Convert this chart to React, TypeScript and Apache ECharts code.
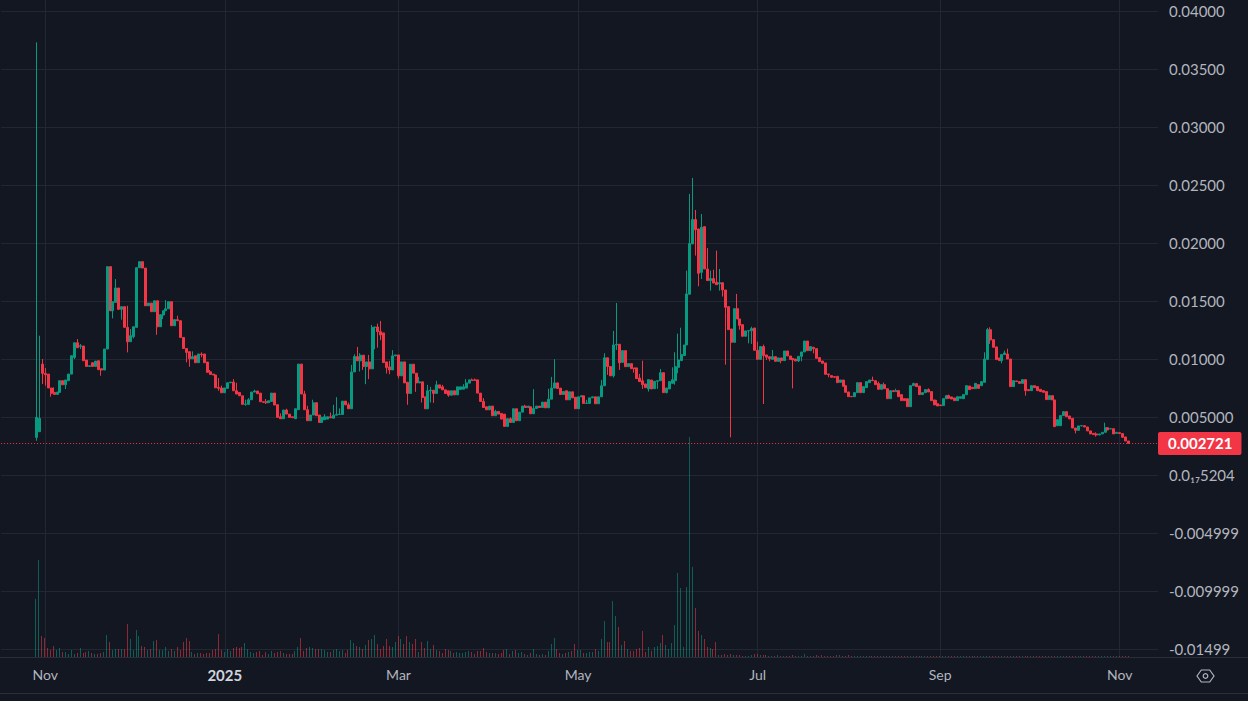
import React, { useEffect, useRef } from "react";
import * as echarts from "echarts";

// Prices are in thousandths of the quote unit.
const PRICE_UNIT = 0.001;
const FIRST_CANDLE = "2024-10-29";
const LEAD_IN_DAYS = 12;
const TOTAL_POINTS = 394;
const LAST_PRICE = 0.002721;

const opens = [
  3.24,3.73,9.56,8.76,8.70,7.50,7.12,6.95,7.12,8.13,
  7.78,8.13,8.70,10.14,11.40,11.09,11.12,9.91,9.36,9.68,
  9.36,9.85,9.16,9.05,10.86,17.96,14.16,14.88,16.12,14.28,
  14.51,12.73,11.49,11.92,12.73,17.87,18.39,17.84,14.59,14.82,
  14.08,15.02,12.78,13.79,14.16,14.33,14.94,12.87,13.39,13.30,
  11.86,10.91,10.63,10.02,10.28,9.68,10.43,10.43,9.74,8.90,
  8.70,8.62,7.55,7.50,7.09,7.47,7.95,8.01,7.26,7.12,
  6.83,6.09,6.09,6.49,7.15,7.24,7.06,6.32,6.32,6.23,
  6.34,7.06,6.06,5.02,4.85,5.60,5.25,5.02,4.85,5.63,
  9.56,6.98,5.63,4.68,5.17,6.23,5.17,4.53,4.76,4.82,
  5.02,4.90,5.16,5.22,5.22,6.37,6.05,5.71,8.89,10.21,
  9.84,10.33,9.35,9.75,9.15,12.71,12.76,12.36,12.25,9.75,
  9.32,9.06,10.27,10.35,8.55,9.75,8.00,7.03,9.55,8.78,
  7.94,8.03,6.74,5.71,7.26,7.31,7.03,7.77,7.60,7.34,
  7.26,6.88,7.26,6.91,7.37,7.40,7.49,7.92,8.20,8.20,
  8.20,7.06,6.34,5.88,5.62,5.94,5.11,5.48,5.31,5.25,
  4.19,4.85,4.53,5.71,4.68,5.42,5.94,5.82,5.88,5.28,
  5.74,5.94,5.82,6.28,5.79,6.54,7.49,7.94,7.49,6.94,
  7.26,6.48,7.17,6.71,5.71,6.74,6.83,6.17,6.17,6.65,
  6.74,6.14,6.74,7.69,10.10,9.35,8.55,11.21,11.27,9.71,
  10.72,9.34,9.60,9.23,9.23,8.36,8.13,7.85,7.42,8.19,
  7.44,8.08,8.13,8.82,7.10,7.42,7.90,8.13,9.28,9.86,
  10.29,11.21,15.58,19.92,22.02,21.21,17.47,21.41,17.76,16.76,
  16.93,16.61,16.47,16.58,15.95,14.51,12.59,11.44,14.34,13.45,
  12.96,11.96,12.42,12.44,12.67,10.75,9.97,11.07,10.35,10.20,
  9.97,10.20,9.80,10.09,9.86,10.69,10.26,10.06,10.00,9.83,
  10.23,10.61,11.55,10.72,11.01,10.89,10.12,9.83,9.66,8.71,
  8.57,8.48,8.51,7.99,8.19,7.70,7.16,6.78,6.75,7.10,
  7.96,7.10,7.53,7.96,8.19,8.13,7.88,7.39,7.79,7.44,
  6.58,7.27,7.19,7.27,6.93,6.58,6.58,5.89,7.70,7.88,
  7.67,6.93,7.10,7.36,7.19,6.47,6.15,6.04,5.98,6.58,
  6.84,6.73,6.64,6.41,6.61,6.58,6.93,7.67,7.56,7.44,
  7.79,7.70,7.99,9.97,12.53,11.67,11.04,10.09,9.86,10.38,
  10.43,10.00,7.62,8.11,8.05,7.90,8.22,7.36,7.27,7.70,
  7.62,7.39,7.27,7.19,6.50,6.84,6.47,4.25,4.25,5.12,
  5.46,5.09,4.89,4.05,3.85,4.23,4.25,4.14,3.80,3.59,
  3.54,3.45,3.54,3.68,4.08,3.97,3.99,3.59,3.65,3.57,
  3.28,2.93,
];

const closes = [
  4.97,4.88,8.76,8.64,7.50,7.04,6.95,7.15,8.13,7.78,
  8.19,8.70,10.28,11.40,10.97,11.14,9.85,9.36,9.42,9.36,
  9.82,9.08,9.05,10.86,17.96,14.16,14.94,16.12,14.28,14.51,
  12.73,11.49,12.01,12.78,17.87,18.39,17.84,14.59,14.82,14.08,
  15.02,12.78,13.82,14.16,14.33,14.94,12.87,13.39,13.30,11.86,
  10.91,10.57,10.02,10.20,9.68,10.43,10.37,9.68,8.85,8.67,
  8.62,7.52,7.47,7.09,7.50,7.95,8.01,7.26,6.98,6.83,
  6.09,6.12,6.49,7.15,7.24,7.01,6.32,6.26,6.23,6.40,
  7.06,6.03,4.97,4.85,5.60,5.25,4.97,4.94,5.71,9.56,
  6.98,5.63,4.68,5.17,6.23,5.11,4.53,4.99,5.02,5.02,
  4.93,5.16,5.22,5.25,6.37,6.05,5.71,8.89,10.21,9.84,
  10.33,9.35,9.75,9.15,12.71,12.76,12.36,12.07,9.69,9.26,
  9.06,10.27,10.35,8.55,9.75,7.94,7.03,9.55,8.78,7.94,
  8.03,6.68,5.71,7.26,7.31,7.03,7.77,7.49,7.34,7.03,
  6.88,7.26,6.91,7.60,7.60,7.60,7.94,8.20,8.15,8.15,
  7.06,6.34,5.82,5.62,5.94,5.11,5.48,5.25,4.82,4.19,
  4.85,4.53,5.71,4.68,5.42,5.94,5.82,5.94,5.28,5.74,
  5.94,5.82,6.28,5.79,6.54,7.49,7.94,7.46,6.94,7.20,
  6.48,7.17,6.65,5.71,6.74,6.83,6.17,6.20,6.65,6.74,
  6.14,6.74,7.69,10.10,9.35,8.55,11.21,11.27,9.67,10.72,
  9.34,9.60,9.17,9.17,8.31,8.05,7.79,7.53,8.22,7.42,
  8.08,8.13,8.82,7.10,7.50,8.05,8.22,9.34,9.92,10.38,
  11.21,15.61,19.95,22.02,21.15,17.39,21.35,17.76,16.76,16.93,
  16.55,16.41,16.58,15.95,14.46,12.53,11.44,14.34,13.45,12.90,
  11.96,12.42,12.44,12.62,10.75,9.97,11.07,10.29,10.15,10.03,
  10.20,9.80,10.09,9.86,10.69,10.26,9.97,9.92,9.83,10.23,
  10.61,11.55,10.72,11.07,10.89,10.06,9.77,9.63,8.68,8.65,
  8.42,8.42,7.96,8.19,7.65,7.13,6.75,6.75,7.10,7.96,
  7.10,7.62,8.05,8.19,8.13,7.79,7.39,7.79,7.44,6.58,
  7.27,7.19,7.27,6.75,6.41,6.41,5.89,7.70,7.88,7.62,
  6.93,7.10,7.36,7.16,6.41,6.04,5.95,5.98,6.58,6.84,
  6.61,6.55,6.41,6.75,6.75,6.93,7.70,7.36,7.44,7.90,
  7.47,8.05,10.00,12.53,11.64,11.01,9.95,9.86,10.38,10.52,
  10.00,7.62,8.13,8.05,7.90,8.22,7.27,7.27,7.70,7.53,
  7.27,7.19,7.13,6.50,6.84,6.47,4.17,4.77,5.12,5.46,
  5.03,4.83,4.05,3.85,4.23,4.25,4.14,3.80,3.54,3.48,
  3.45,3.54,3.68,4.08,3.88,3.99,3.54,3.68,3.57,3.25,
  2.93,2.721,
];

// Wicks that reach past the candle body, by candle index.
const upperWicks: Record<number, number> = {
  0:37.3,1:12.01,2:9.99,3:9.22,6:7.55,14:11.72,15:11.29,27:16.89,31:14.59,32:12.58,
  44:15.08,48:13.73,53:10.66,56:10.57,59:9.05,62:8.36,63:7.70,67:8.27,68:7.95,71:6.49,
  72:6.63,74:7.35,78:6.55,83:5.31,85:5.71,91:7.26,92:5.97,94:6.49,98:5.25,100:5.39,
  101:6.05,102:6.71,103:5.74,106:6.25,107:9.49,108:10.41,109:11.04,110:10.50,113:10.35,114:12.94,
  116:13.05,117:13.28,120:9.84,121:10.76,130:8.46,133:7.77,134:7.60,136:8.12,138:7.77,145:7.83,
  146:8.26,148:8.32,149:8.32,152:6.63,156:5.62,161:4.96,166:6.05,169:7.40,174:7.43,175:8.46,
  176:9.98,187:6.48,192:8.20,193:10.50,196:12.42,197:14.83,205:8.71,206:9.86,212:9.14,216:9.28,
  217:10.58,218:12.19,219:12.70,221:17.62,222:24.23,223:25.61,224:22.85,226:22.50,228:19.57,229:17.62,
  230:17.70,231:19.34,232:17.76,238:15.61,243:12.79,245:11.50,247:11.24,250:10.78,284:8.48,286:8.05,
  288:7.96,292:7.44,298:7.96,303:7.47,306:6.47,310:6.93,322:10.58,323:12.68,324:12.73,329:10.72,
  330:10.89,360:3.68,363:4.51,
};

const lowerWicks: Record<number, number> = {
  0:2.95,2:7.84,3:7.70,5:6.75,10:7.41,13:9.99,15:10.86,22:8.56,26:13.50,29:13.39,
  31:10.57,33:11.78,41:12.09,43:13.44,51:9.71,52:9.33,56:10.14,62:7.26,71:5.97,78:6.12,
  110:8.92,111:9.06,112:7.83,113:8.26,115:10.84,116:10.98,117:11.62,119:8.75,120:8.69,123:8.32,
  126:6.05,129:7.17,131:6.25,134:6.25,135:6.22,140:6.74,194:8.63,196:8.40,197:10.78,198:9.06,
  203:8.82,206:7.42,208:7.19,211:7.42,214:7.04,217:7.79,218:8.77,224:18.91,225:16.27,226:16.90,
  229:15.89,232:15.89,233:15.38,234:9.51,236:3.25,239:12.53,242:11.35,243:11.30,247:6.12,248:9.92,
  249:9.80,253:9.63,257:7.47,259:9.74,260:9.80,264:10.49,269:8.42,324:11.30,328:9.63,336:6.84,
  353:3.59,360:3.31,
};

const volumes = [
  58,97,21,19,9,7,11,7,9,5,5,3,7,3,4,9,4,5,6,4,
  3,3,4,5,22,15,7,8,8,8,8,33,18,7,27,21,11,10,7,8,
  16,17,7,7,10,6,8,6,10,7,15,19,16,5,3,4,4,3,4,4,
  7,8,23,7,5,8,6,9,10,9,10,14,8,5,4,5,6,2,5,3,
  6,4,5,6,4,3,3,3,6,10,19,6,9,10,9,8,8,8,7,5,
  5,7,8,6,7,4,7,17,14,11,10,8,12,17,18,22,13,8,11,18,
  11,10,15,21,18,13,21,15,13,18,5,15,9,16,8,12,7,6,4,8,
  7,6,4,5,4,4,5,6,5,3,6,6,9,5,4,4,4,3,4,7,
  8,3,6,7,4,5,3,2,4,8,3,2,3,2,6,13,19,8,4,3,
  4,5,6,13,7,7,4,4,5,5,8,6,18,36,15,15,56,41,30,12,
  16,8,6,6,8,9,26,5,10,6,10,11,14,22,12,8,14,32,84,69,
  10,70,220,90,49,26,22,18,10,9,8,15,2,2,3,2,3,2,2,2,
  1,1,1,2,3,3,2,2,2,1,1,1,2,1,1,1,1,2,1,1,
  1,3,1,1,1,2,1,2,1,1,1,1,2,2,1,1,2,1,1,1,
  1,1,1,1,1,1,1,1,1,1,1,1,1,1,1,1,1,1,1,1,
  1,1,1,1,1,1,1,1,1,1,1,1,1,1,1,1,1,1,1,1,
  1,1,1,1,1,1,1,1,1,1,1,1,1,1,1,1,1,1,1,1,
  1,1,1,1,1,1,1,1,1,1,1,1,1,1,1,1,1,1,1,1,
  1,1,1,1,1,1,1,1,1,1,1,1,
];

// Labels of the price scale, from 0.04 downwards in steps of 0.005.
const priceTickLabels = [
  "0.04000","0.03500","0.03000","0.02500","0.02000","0.01500","0.01000","0.005000",
  "0.0\u2081\u20875204","-0.004999","-0.009999","-0.01499",
];
const monthNames = ["Jan","Feb","Mar","Apr","May","Jun","Jul","Aug","Sep","Oct","Nov","Dec"];
const yearTickLabel = "2025";

const BG = "#131722";
const GRID = "#232733";
const UP = "#089981";
const DOWN = "#f23645";
const VOL_UP = "rgba(8,153,129,0.55)";
const VOL_DOWN = "rgba(242,54,69,0.55)";
const TEXT = "#b2b5be";
const FONT = "Lato, 'Noto Sans', sans-serif";

const DAY = 86400000;
const startMs = Date.parse(FIRST_CANDLE) - LEAD_IN_DAYS * DAY;
const dates: string[] = [];
for (let i = 0; i < TOTAL_POINTS; i++) {
  dates.push(new Date(startMs + i * DAY).toISOString().slice(0, 10));
}
const isLabelDay = (index: number) => {
  const d = new Date(startMs + index * DAY);
  return d.getUTCDate() === 1 && (d.getUTCMonth() % 2 === 0 || d.getUTCMonth() === 10);
};
const tickText = (value: string) => {
  const d = new Date(value);
  if (d.getUTCMonth() === 0) return `{year|${yearTickLabel}}`;
  return monthNames[d.getUTCMonth()];
};

const padding = new Array(LEAD_IN_DAYS).fill("-");
const candleData = [
  ...padding,
  ...opens.map((o, i) => {
    const c = closes[i];
    const low = Math.min(o, c, lowerWicks[i] ?? Infinity);
    const high = Math.max(o, c, upperWicks[i] ?? -Infinity);
    return [o, c, low, high].map((v) => v * PRICE_UNIT);
  }),
];
const volumeData = volumes.map((v, i) => [i + LEAD_IN_DAYS, v, closes[i] >= opens[i] ? 1 : 0]);

// The price scale runs past the visible area so that its ticks stay on multiples of 0.005.
const PRICE_MIN = -0.02;
const PRICE_MAX = 0.045;
const PX_PER_PRICE = 11600;
const ZERO_Y = 475;
const PANE_BOTTOM = 657;
const PANE_LEFT = 1.1;
const PANE_WIDTH = 1156.9;

export default function App() {
  const ref = useRef<HTMLDivElement>(null);
  useEffect(() => {
    document.body.style.margin = "0";
    document.body.style.background = BG;
    const chart = echarts.init(ref.current!, undefined, { renderer: "svg" });
    chart.setOption({
      animation: false,
      backgroundColor: BG,
      textStyle: { fontFamily: FONT },
      grid: [
        {
          left: PANE_LEFT,
          width: PANE_WIDTH,
          top: ZERO_Y - PRICE_MAX * PX_PER_PRICE,
          height: (PRICE_MAX - PRICE_MIN) * PX_PER_PRICE,
          outerBoundsMode: "none",
        },
        { left: PANE_LEFT, width: PANE_WIDTH, top: 0, height: PANE_BOTTOM, outerBoundsMode: "none" },
      ],
      xAxis: [
        {
          type: "category",
          gridIndex: 0,
          data: dates,
          boundaryGap: false,
          axisLine: { show: false },
          axisTick: { show: false },
          axisLabel: { show: false },
          splitLine: { show: false },
        },
        {
          type: "category",
          gridIndex: 1,
          data: dates,
          boundaryGap: false,
          axisLine: { show: false },
          axisTick: { show: false },
          splitLine: {
            show: true,
            interval: (index: number) => isLabelDay(index),
            lineStyle: { color: GRID, width: 1 },
          },
          axisLabel: {
            interval: (index: number) => isLabelDay(index),
            formatter: tickText,
            color: TEXT,
            fontFamily: FONT,
            fontSize: 14,
            margin: 10,
            rich: {
              year: { color: "#d1d4dc", fontFamily: FONT, fontSize: 15, fontWeight: "bold" },
            },
          },
        },
      ],
      yAxis: [
        {
          type: "value",
          gridIndex: 0,
          position: "right",
          min: PRICE_MIN,
          max: PRICE_MAX,
          interval: 0.005,
          axisLine: { show: false },
          axisTick: { show: false },
          splitLine: { show: true, lineStyle: { color: GRID, width: 1 } },
          axisLabel: {
            color: TEXT,
            fontFamily: FONT,
            fontSize: 15,
            align: "left",
            margin: 11,
            padding: [0, 0, 5, 0],
            formatter: (v: number) => priceTickLabels[Math.round((0.04 - v) / 0.005)] ?? "",
          },
        },
        {
          type: "value",
          gridIndex: 1,
          min: 0,
          max: PANE_BOTTOM,
          show: false,
        },
      ],
      series: [
        {
          type: "custom",
          name: "Volume",
          xAxisIndex: 1,
          yAxisIndex: 1,
          data: volumeData,
          encode: { x: 0, y: 1 },
          z: 1,
          silent: true,
          renderItem: (_params: any, api: any) => {
            const top = api.coord([api.value(0), api.value(1)]);
            const base = api.coord([api.value(0), 0]);
            return {
              type: "rect",
              shape: { x: Math.floor(top[0] - 0.5), y: top[1], width: 1, height: base[1] - top[1] },
              style: { fill: api.value(2) ? VOL_UP : VOL_DOWN },
            };
          },
        },
        {
          type: "candlestick",
          name: "Price",
          xAxisIndex: 0,
          yAxisIndex: 0,
          barWidth: 2.5,
          data: candleData,
          z: 2,
          itemStyle: {
            color: UP,
            color0: DOWN,
            borderColor: UP,
            borderColor0: DOWN,
            borderWidth: 1,
          },
          markLine: {
            silent: true,
            symbol: "none",
            animation: false,
            precision: 6,
            lineStyle: { color: DOWN, type: [1, 2], width: 1, opacity: 1 },
            label: {
              position: "end",
              distance: 0,
              formatter: () => LAST_PRICE.toFixed(6),
              color: "#ffffff",
              fontFamily: FONT,
              fontSize: 15,
              fontWeight: "bold",
              backgroundColor: DOWN,
              borderRadius: 2,
              padding: [4, 9, 4, 10],
            },
            data: [{ yAxis: LAST_PRICE }],
          },
        },
      ],
      graphic: [
        { type: "line", silent: true, shape: { x1: 0, y1: PANE_BOTTOM + 0.5, x2: 1248, y2: PANE_BOTTOM + 0.5 }, style: { stroke: "#2a2e39", lineWidth: 1 } },
        { type: "line", silent: true, shape: { x1: 0, y1: 693.5, x2: 1248, y2: 693.5 }, style: { stroke: "#2a2e39", lineWidth: 1 } },
        {
          type: "polygon",
          silent: true,
          shape: { points: [[1197, 676], [1201.3, 670], [1209.7, 670], [1214, 676], [1209.7, 682], [1201.3, 682]] },
          style: { fill: "none", stroke: TEXT, lineWidth: 1.2 },
        },
        { type: "circle", silent: true, shape: { cx: 1205.5, cy: 676, r: 2.3 }, style: { fill: "none", stroke: TEXT, lineWidth: 1.2 } },
      ],
    });
    return () => chart.dispose();
  }, []);
  return <div ref={ref} style={{ position: "absolute", left: 0, top: 0, width: 1248, height: 701 }} />;
}
